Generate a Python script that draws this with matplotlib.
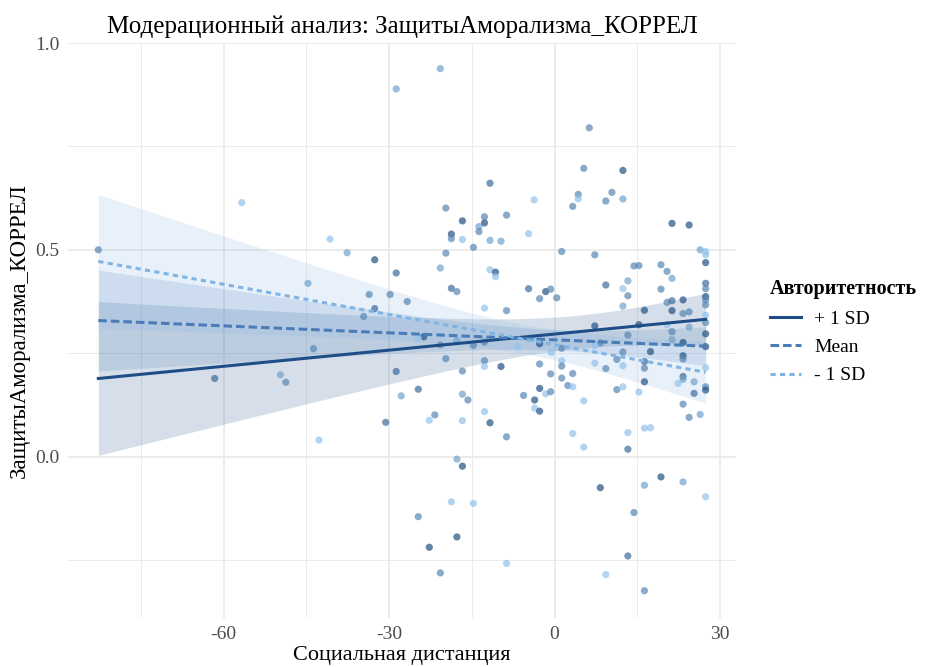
import matplotlib.pyplot as plt
import numpy as np
from matplotlib.colors import LinearSegmentedColormap

plt.rcParams['font.family'] = ['Liberation Serif', 'DejaVu Serif']
plt.rcParams['axes.unicode_minus'] = False

# observed points: social distance, outcome, moderator shade (0 = low, 1 = high)
soc_dist = [
    -82.7, -56.7, -40.7, -37.6, -32.6, -44.7, -33.6, -32.6, -34.6, -43.7, -61.6, -49.7, -48.7, -42.7, -30.6,
    -20.7, -28.7, -11.7, -3.7, -19.7, -8.7, -12.7, -16.7, -12.7, -13.7, -13.7, -18.7, -18.7, -4.7, -16.7,
    -11.7, -9.7, -14.7, -19.7, -20.7, -28.7, -11.7, -10.7, -10.7, -29.8, -26.7, -18.7, -17.7, -4.7, -1.6,
    -0.7, -2.7, 0.4, -12.7, -8.7,
    -23.7, -20.7, -24.7, -17.7, -14.7, -12.7, -19.7, -12.7, -12.7, -16.7, -9.7, -28.7, -24.7, -27.8, -16.7,
    -15.7, -22.7, -21.7, -16.7, -12.7, -11.7, -8.7, -17.7, -16.7, -18.7, -14.7, -24.7, -17.7, -22.7, -20.7, -8.7,
    -6.7, -4.2, -2.7, -0.6, 1.3, 1.3, 1.3, -2.7, -0.7, 1.3, 2.4, 3.3, 3.3, 5.3, -2.7, -1.6, -0.7, -5.6, -3.6, -3.6, -2.7,
    1.3, 3.3, 4.3, 4.3, 5.3, 6.3, 7.3, 9.3, 10.4, 12.4, 12.4, 9.3, 12.4, 13.3, 13.3, 12.4, 7.3, 8.3, 7.3, 13.3,
    12.4, 11.3, 12.4, 7.3, 9.3, 11.3, 12.4,
    5.3, 3.3, 8.3, 9.3, 13.3, 13.3, 14.4, 13.3, 16.3, 16.3, 19.3, 23.3, 27.4, 16.3, 17.4,
    15.3, 16.3, 16.3, 16.3, 17.4, 16.3, 15.3, 14.4, 15.3, 19.3, 20.4, 21.3, 19.3, 21.3, 24.4, 20.4, 21.3, 23.3,
    21.3, 23.3, 24.4, 24.4, 20.4, 21.3, 21.3, 23.3, 23.3, 23.3, 23.3, 23.3, 22.4, 25.3, 25.3, 23.3, 24.4, 26.4, 26.4,
    27.4, 27.4, 27.4, 27.4, 27.4, 27.4, 27.4, 27.4, 27.4, 27.4, 27.4, 27.4, 27.4, 27.4, 27.4,
]
defense = [
    0.500, 0.614, 0.526, 0.493, 0.476, 0.419, 0.392, 0.358, 0.339, 0.261, 0.189, 0.198, 0.180, 0.040, 0.083,
    0.938, 0.889, 0.661, 0.621, 0.601, 0.584, 0.580, 0.570, 0.565, 0.556, 0.544, 0.538, 0.527, 0.539, 0.525,
    0.523, 0.521, 0.506, 0.492, 0.456, 0.444, 0.452, 0.446, 0.435, 0.392, 0.375, 0.407, 0.399, 0.406, 0.399,
    0.405, 0.382, 0.384, 0.359, 0.353,
    0.290, 0.270, 0.286, 0.281, 0.269, 0.277, 0.237, 0.232, 0.218, 0.207, 0.218, 0.206, 0.163, 0.147, 0.151,
    0.137, 0.088, 0.101, 0.087, 0.109, 0.082, 0.048, -0.006, -0.023, -0.109, -0.113, -0.145, -0.194, -0.219, -0.281, -0.258,
    0.266, 0.286, 0.273, 0.252, 0.262, 0.232, 0.219, 0.224, 0.200, 0.190, 0.172, 0.201, 0.169, 0.135, 0.165, 0.152, 0.157, 0.148, 0.137, 0.117, 0.110,
    0.496, 0.605, 0.634, 0.623, 0.697, 0.795, 0.488, 0.618, 0.639, 0.692, 0.623, 0.415, 0.406, 0.425, 0.389, 0.364, 0.316, 0.275, 0.268, 0.294,
    0.253, 0.235, 0.220, 0.226, 0.213, 0.162, 0.169,
    0.023, 0.056, -0.075, -0.285, 0.058, 0.018, -0.135, -0.240, -0.324, -0.069, -0.049, -0.061, -0.097, 0.069, 0.070,
    0.156, 0.181, 0.214, 0.230, 0.254, 0.354, 0.319, 0.461, 0.462, 0.464, 0.448, 0.431, 0.405, 0.564, 0.560, 0.373, 0.377, 0.379,
    0.353, 0.346, 0.350, 0.313, 0.319, 0.302, 0.283, 0.276, 0.244, 0.236, 0.194, 0.187, 0.177, 0.181, 0.153, 0.127, 0.095, 0.102, 0.500,
    0.496, 0.488, 0.469, 0.419, 0.406, 0.387, 0.379, 0.367, 0.342, 0.324, 0.297, 0.266, 0.215, 0.169, 0.161,
]
authority = [
    .55, .1, .1, .35, .95, .35, .55, .75, .55, .55, .75, .35, .55, .1, .75,
    .35, .35, .75, .1, .55, .55, .55, .95, .95, .35, .55, .95, .55, .1, .1,
    .35, .35, .55, .55, .35, .75, .1, .95, .1, .55, .55, .75, .55, .75, .95,
    .55, .55, .55, .1, .55,
    .95, .55, .1, .35, .55, .55, .55, .55, .1, .55, .95, .75, .75, .35, .35,
    .55, .1, .55, .1, .1, .95, .55, .35, .95, .1, .1, .55, .95, .95, .55, .1,
    .1, .35, .95, .1, .55, .1, .55, .55, .55, .55, .55, .55, .1, .1, .95, .1, .55, .55, .95, .1, .95,
    .55, .55, .55, .1, .55, .55, .55, .55, .55, .95, .35, .75, .1, .35, .55, .35, .95, .55, .1, .55,
    .55, .55, .1, .1, .55, .55, .1,
    .1, .1, .95, .1, .1, .75, .55, .75, .55, .35, .95, .35, .1, .1, .1,
    .1, .95, .55, .75, .95, .95, .95, .55, .55, .55, .55, .35, .55, .95, .95, .55, .75, .95,
    .95, .55, .55, .35, .1, .55, .35, .95, .95, .55, .75, .35, .1, .35, .75, .55, .55, .35, .35,
    .1, .1, .95, .75, .55, .95, .55, .55, .1, .55, .95, .95, .1, .55, .95,
]

# simple slopes at moderator levels
levels = ['+ 1 SD', 'Mean', '- 1 SD']
x_span = [-82.7, 27.4]
fit_left = [0.189, 0.329, 0.472]
fit_right = [0.332, 0.267, 0.204]
ci_left = [0.186, 0.122, 0.162]
ci_right = [0.063, 0.047, 0.075]
ci_min = [0.04, 0.025, 0.035]

colors = ['#1f4e87', '#4a7db8', '#80b4e4']
dashes = [None, (2.8, 1.3), (1.7, 1.4)]

fig = plt.figure(figsize=(9.27, 6.67), dpi=100)
ax = fig.add_axes([68 / 927, 1 - 618 / 667, 668 / 927, 575 / 667])

xs = np.linspace(x_span[0], x_span[1], 200)
for i in range(3):
    fit = fit_left[i] + (fit_right[i] - fit_left[i]) * (xs - x_span[0]) / (x_span[1] - x_span[0])
    a = np.sqrt(ci_left[i] ** 2 - ci_min[i] ** 2)
    b = np.sqrt(ci_right[i] ** 2 - ci_min[i] ** 2)
    k = (a + b) / (x_span[1] - x_span[0])
    xc = x_span[0] + a / k
    hw = np.sqrt(ci_min[i] ** 2 + (k * (xs - xc)) ** 2)
    ax.fill_between(xs, fit - hw, fit + hw, color=colors[i], alpha=0.18, lw=0, zorder=1)

cmap = LinearSegmentedColormap.from_list('auth', ['#9fd0f7', '#1d4b7d'])
ax.scatter(soc_dist, defense, c=authority, cmap=cmap, vmin=0, vmax=1, s=27,
           alpha=0.7, edgecolors='none', zorder=2)

handles = []
for i in range(3):
    fit = fit_left[i] + (fit_right[i] - fit_left[i]) * (xs - x_span[0]) / (x_span[1] - x_span[0])
    ln, = ax.plot(xs, fit, color=colors[i], lw=2.2, zorder=3, label=levels[i])
    if dashes[i] is not None:
        ln.set_dashes(dashes[i])
    handles.append(ln)

ax.set_xlim(-88.2, 32.9)
ax.set_ylim(-0.39, 1.0)
ax.set_xticks([-60, -30, 0, 30])
ax.set_xticks([-75, -45, -15, 15], minor=True)
ax.set_yticks([0.0, 0.5, 1.0])
ax.set_yticklabels(['0.0', '0.5', '1.0'])
ax.set_yticks([-0.25, 0.25, 0.75], minor=True)
ax.grid(which='major', color='#ebebeb', lw=1.3)
ax.grid(which='minor', color='#ebebeb', lw=0.7)
ax.set_axisbelow(True)
for s in ax.spines.values():
    s.set_visible(False)
ax.tick_params(which='both', length=0, labelsize=14, labelcolor='#4d4d4d', pad=6)

ax.set_title('Модерационный анализ: ЗащитыАморализма_КОРРЕЛ', fontsize=18, pad=7)
ax.set_xlabel('Социальная дистанция', fontsize=16, labelpad=2)
ax.set_ylabel('ЗащитыАморализма_КОРРЕЛ', fontsize=16.5, labelpad=4)

leg = fig.legend(handles=handles, loc='upper left', bbox_to_anchor=(752 / 927, 1 - 262 / 667),
                 frameon=False, fontsize=14, title='Авторитетность', handlelength=1.6,
                 labelspacing=0.55, handletextpad=0.7)
leg.get_title().set_fontweight('bold')
leg.get_title().set_fontsize(14.5)
leg._legend_box.align = 'left'

fig.savefig('out.png', dpi=100)
